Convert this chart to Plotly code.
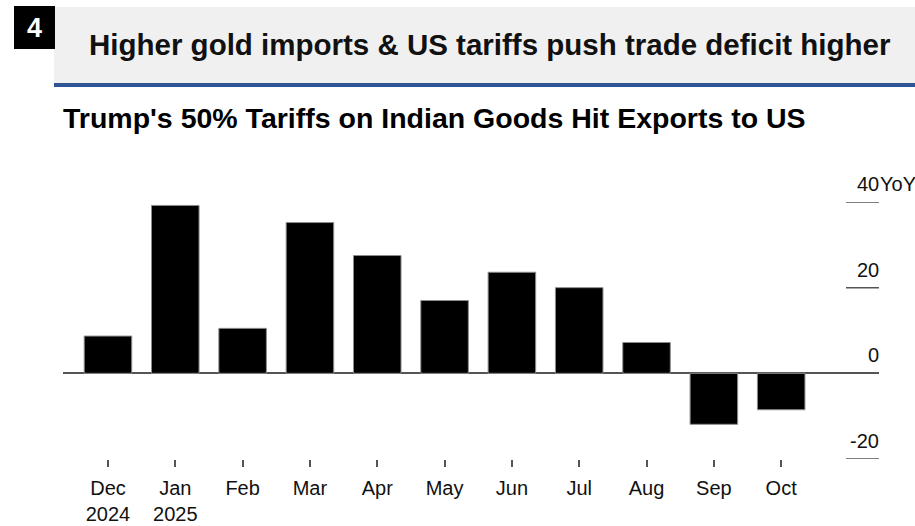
import plotly.graph_objects as go

# Monthly year-on-year change in Indian exports to the US (%)
months = ["Dec", "Jan", "Feb", "Mar", "Apr", "May", "Jun", "Jul", "Aug", "Sep", "Oct"]
years = ["2024", "2025", "", "", "", "", "", "", "", "", ""]
yoy_change = [8.7, 39.2, 10.5, 35.2, 27.5, 17.0, 23.6, 20.0, 7.2, -11.9, -8.5]
y_ticks = [-20, 0, 20, 40]

categories = [m + ("<br>" + y if y else "") for m, y in zip(months, years)]

W, H = 915, 526
L, R, T, B = 63, 36, 202, 67
PW, PH = W - L - R, H - T - B


def px(x):
    return (x - L) / PW


def py(y):
    return (H - B - y) / PH


FONT = "Liberation Sans, Arial, sans-serif"
TICK_GREY = "#555555"

fig = go.Figure(
    go.Bar(
        x=categories,
        y=yoy_change,
        marker=dict(color="#000000", line=dict(color="#8c8c8c", width=1)),
        hoverinfo="x+y",
    )
)

fig.update_layout(
    width=W,
    height=H,
    margin=dict(l=L, r=R, t=T, b=B),
    paper_bgcolor="white",
    plot_bgcolor="white",
    bargap=0.294,
    showlegend=False,
    font=dict(family=FONT, size=20, color="#111111"),
)

fig.update_xaxes(
    type="category",
    range=[-0.668, 11.453],
    automargin=False,
    showgrid=False,
    showline=False,
    zeroline=False,
    ticks="outside",
    ticklen=7,
    tickwidth=1.5,
    tickcolor=TICK_GREY,
    ticklabelstandoff=4,
    tickfont=dict(family=FONT, size=20, color="#111111"),
)

fig.update_yaxes(
    side="right",
    range=[-20, 40],
    automargin=False,
    tickvals=y_ticks,
    showticklabels=False,
    ticks="",
    showgrid=False,
    showline=False,
    zeroline=True,
    zerolinecolor=TICK_GREY,
    zerolinewidth=1.5,
)

shapes = [
    # header banner
    dict(type="rect", xref="paper", yref="paper",
         x0=px(54), x1=px(915), y0=py(83), y1=py(7),
         fillcolor="#f0f0f0", line=dict(width=0), layer="below"),
    dict(type="rect", xref="paper", yref="paper",
         x0=px(54), x1=px(915), y0=py(87), y1=py(83),
         fillcolor="#2f5597", line=dict(width=0)),
    # numbered badge
    dict(type="rect", xref="paper", yref="paper",
         x0=px(14), x1=px(55), y0=py(49), y1=py(6),
         fillcolor="#000000", line=dict(width=0)),
]

# short right-hand tick marks at each axis value
for v in y_ticks:
    shapes.append(
        dict(type="line", xref="paper", yref="y", x0=px(846), x1=1.0, y0=v, y1=v,
             line=dict(color=TICK_GREY, width=1.5))
    )

annotations = [
    dict(text="<b>4</b>", xref="paper", yref="paper", x=px(34.5), y=py(28),
         xanchor="center", yanchor="middle", showarrow=False,
         font=dict(family=FONT, size=27, color="white")),
    dict(text="<b>Higher gold imports & US tariffs push trade deficit higher</b>",
         xref="paper", yref="paper", x=px(87), y=py(44),
         xanchor="left", yanchor="middle", showarrow=False,
         font=dict(family=FONT, size=29.5, color="#111111")),
    dict(text="<b>Trump's 50% Tariffs on Indian Goods Hit Exports to US</b>",
         xref="paper", yref="paper", x=px(61), y=py(118),
         xanchor="left", yanchor="middle", showarrow=False,
         font=dict(family=FONT, size=28.5, color="#000000")),
    dict(text="YoY", xref="paper", yref="y", x=1.0, y=40,
         xanchor="left", yanchor="middle", yshift=18, xshift=-1, showarrow=False,
         font=dict(family=FONT, size=20, color="#111111")),
]

# value labels for the right-hand axis, sitting just above each tick mark
for v in y_ticks:
    annotations.append(
        dict(text=str(v), xref="paper", yref="y", x=1.0, y=v,
             xanchor="right", yanchor="middle", yshift=18, xshift=2,
             showarrow=False, font=dict(family=FONT, size=20, color="#111111"))
    )

fig.update_layout(shapes=shapes, annotations=annotations)

fig.write_html("out.html")
